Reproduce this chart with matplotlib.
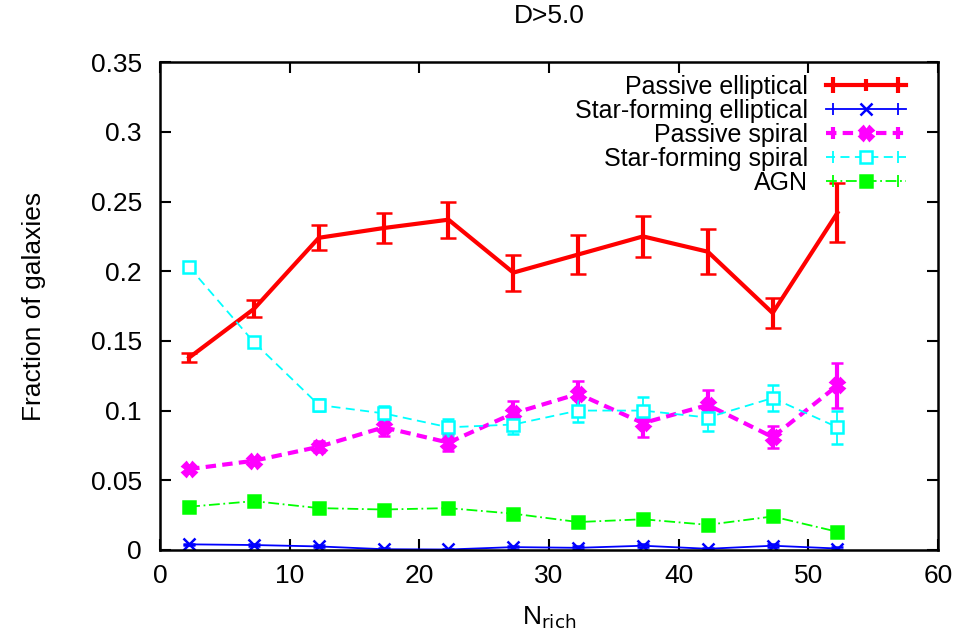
import matplotlib.pyplot as plt
from matplotlib.lines import Line2D
from matplotlib.legend_handler import HandlerLine2D, HandlerTuple
import numpy as np

plt.rcParams['font.family'] = ['Liberation Sans', 'DejaVu Sans']

# datos
n_rich = [2.25, 7.25, 12.25, 17.25, 22.25, 27.25, 32.25, 37.25, 42.25, 47.25, 52.25]

pas_ell = [0.138, 0.173, 0.224, 0.231, 0.237, 0.199, 0.212, 0.225, 0.214, 0.170, 0.242]
pas_ell_err = [0.003, 0.006, 0.009, 0.011, 0.013, 0.013, 0.014, 0.015, 0.016, 0.011, 0.021]

sf_ell = [0.004, 0.0035, 0.0025, 0.0005, 0.0003, 0.002, 0.0015, 0.003, 0.0008, 0.003, 0.001]
sf_ell_err = [0.0005, 0.0006, 0.0007, 0.0006, 0.0005, 0.001, 0.001, 0.0012, 0.0008, 0.0012, 0.001]

pas_sp = [0.058, 0.064, 0.074, 0.088, 0.077, 0.098, 0.112, 0.091, 0.104, 0.081, 0.118]
pas_sp_err = [0.003, 0.003, 0.004, 0.006, 0.006, 0.009, 0.009, 0.010, 0.011, 0.008, 0.016]

sf_sp = [0.203, 0.149, 0.104, 0.098, 0.088, 0.090, 0.100, 0.100, 0.095, 0.109, 0.088]
sf_sp_err = [0.002, 0.003, 0.004, 0.005, 0.006, 0.007, 0.008, 0.010, 0.010, 0.009, 0.012]

agn = [0.031, 0.035, 0.030, 0.029, 0.030, 0.026, 0.020, 0.022, 0.018, 0.024, 0.013]
agn_err = [0.001, 0.0015, 0.0015, 0.0015, 0.002, 0.002, 0.002, 0.002, 0.002, 0.002, 0.002]

labels = ['Passive elliptical', 'Star-forming elliptical', 'Passive spiral',
          'Star-forming spiral', 'AGN']

fig = plt.figure(figsize=(9.72, 6.35), dpi=100)
ax = fig.add_axes([0.1646, 0.134, 0.8004, 0.768])

# estilos: (color, lw, ls, marker, ms, mfc, capsize, capthick)
styles = [
    ('#ff0000', 3.0, '-', '|', 8, None, 6, 3.0),
    ('#0000ff', 1.3, '-', 'x', 8, None, 4, 1.3),
    ('#ff00ff', 3.0, (0, (2.5, 1.5)), 'X', 10, None, 4, 3.0),
    ('#00ffff', 1.3, (0, (5, 3)), 's', 9, 'white', 4, 1.3),
    ('#00ff00', 1.3, (0, (6, 2, 1, 2)), 's', 9, None, 4, 1.3),
]
series = [(pas_ell, pas_ell_err), (sf_ell, sf_ell_err), (pas_sp, pas_sp_err),
          (sf_sp, sf_sp_err), (agn, agn_err)]

handles = []
hmap = {}
for (vals, errs), (c, lw, ls, mk, ms, mfc, cs, ct), lab in zip(series, styles, labels):
    data_marker = 'None' if mk == '|' else mk
    ax.errorbar(n_rich, vals, yerr=errs, color=c, lw=lw, ls=ls, marker=data_marker,
                ms=ms, mfc=mfc if mfc else c, mew=1.8, capsize=cs, capthick=ct,
                elinewidth=lw)
    # leyenda estilo gnuplot: línea horizontal con topes en los extremos
    main = Line2D([], [], color=c, lw=lw, ls=ls, marker=mk, ms=ms,
                  mfc=mfc if mfc else c, mew=1.8 if mk != '|' else lw)
    caps = Line2D([], [], color=c, ls='none', marker='|', ms=cs * 2, mew=ct)
    hmap[caps] = HandlerLine2D(numpoints=2)
    handles.append((main, caps))

ax.set_xlim(0, 60)
ax.set_ylim(0, 0.35)
ax.set_xticks(np.arange(0, 61, 10))
ax.set_yticks(np.arange(0, 0.351, 0.05))
ax.set_yticklabels(['0', '0.05', '0.1', '0.15', '0.2', '0.25', '0.3', '0.35'])
ax.tick_params(direction='in', length=8, width=1.5, labelsize=19, top=True, right=True)
ax.tick_params(axis='x', pad=10)
ax.tick_params(axis='y', pad=13)
for s in ax.spines.values():
    s.set_linewidth(1.8)

ax.set_xlabel(r'N$_{\rm rich}$', fontsize=19, labelpad=12)
ax.set_ylabel('Fraction of galaxies', fontsize=19, labelpad=32)
ax.set_title('D>5.0', fontsize=19, pad=28)

hmap[tuple] = HandlerTuple(ndivide=1, pad=0)
ax.legend(handles, labels, handler_map=hmap, loc='upper right',
          bbox_to_anchor=(0.981, 1.01), frameon=False,
          markerfirst=False, fontsize=18, handlelength=3.2, labelspacing=0.0,
          borderaxespad=0.3, handletextpad=0.7, borderpad=0.4)

plt.savefig('out.png', dpi=100)
plt.close()
